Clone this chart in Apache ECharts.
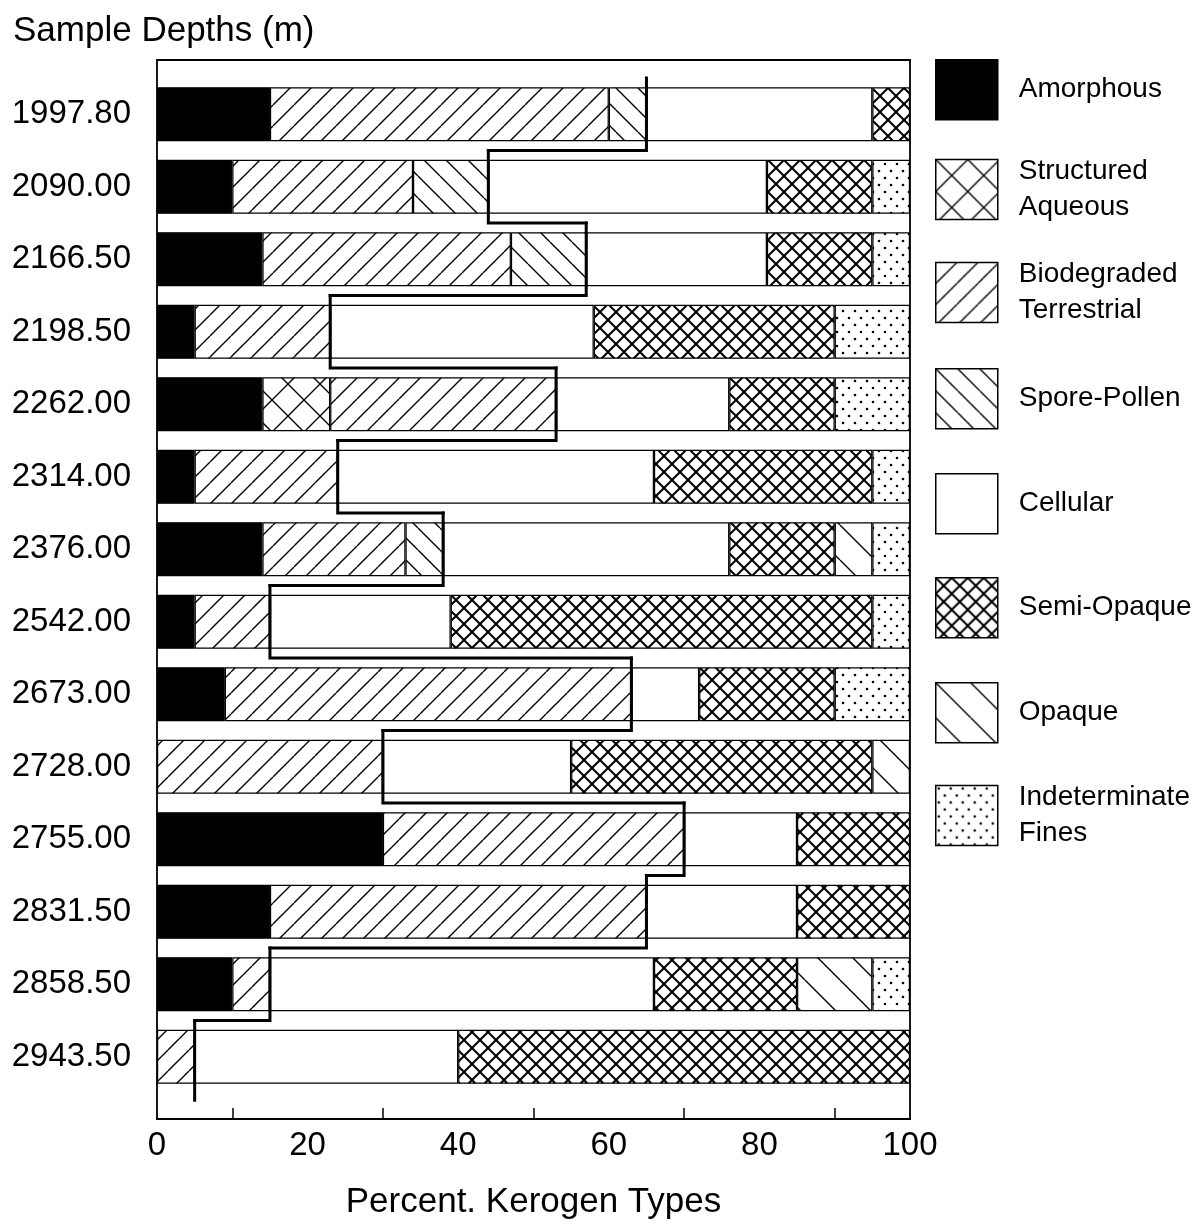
<!DOCTYPE html>
<html>
<head>
<meta charset="utf-8">
<script src="https://cdn.jsdelivr.net/npm/echarts@6/dist/echarts.min.js"></script>
<style>html,body{margin:0;padding:0;background:#fff}#chart{width:1200px;height:1225px}</style>
</head>
<body>
<div id="chart"></div>
<script>
// ---- data (top to bottom) ----
const depths = ['1997.80','2090.00','2166.50','2198.50','2262.00','2314.00','2376.00','2542.00','2673.00','2728.00','2755.00','2831.50','2858.50','2943.50'];
const amorphous   = [15,10,14, 5,14, 5,14, 5, 9, 0,30,15,10, 0];
const structured  = [ 0, 0, 0, 0, 9, 0, 0, 0, 0, 0, 0, 0, 0, 0];
const biodegraded = [45,24,33,18,30,19,19,10,54,30,40,50, 5, 5];
const sporePollen = [ 5,10,10, 0, 0, 0, 5, 0, 0, 0, 0, 0, 0, 0];
const cellular    = [30,37,24,35,23,42,38,24, 9,25,15,20,51,35];
const semiOpaque  = [ 5,14,14,32,14,29,14,56,18,40,15,15,19,60];
const opaque      = [ 0, 0, 0, 0, 0, 0, 5, 0, 0, 5, 0, 0,10, 0];
const indetFines  = [ 0, 5, 5,10,10, 5, 5, 5,10, 0, 0, 0, 5, 0];
const xLabels = [0,20,40,60,80,100];

// boundary line: cumulative of the first four types
const boundary = depths.map((d,i)=>amorphous[i]+structured[i]+biodegraded[i]+sporePollen[i]);

// ---- patterns ----
function pat(w, h, draw){
  const c = document.createElement('canvas'); c.width = w; c.height = h;
  const ctx = c.getContext('2d');
  ctx.fillStyle = '#fff'; ctx.fillRect(0,0,w,h);
  ctx.strokeStyle = '#000'; ctx.fillStyle = '#000';
  draw(ctx, w, h);
  return {image: c, repeat: 'repeat'};
}
function fwd(ctx, s){ ctx.beginPath(); for (const o of [-s,0,s]) { ctx.moveTo(o, s); ctx.lineTo(o+s, 0); } ctx.stroke(); }
function back(ctx, s){ ctx.beginPath(); for (const o of [-s,0,s]) { ctx.moveTo(o, 0); ctx.lineTo(o+s, s); } ctx.stroke(); }
const P = {
  amorphous: '#000',
  structured: pat(32,32,(ctx,s)=>{ctx.lineWidth=1.4; fwd(ctx,s); back(ctx,s);}),
  biodeg: pat(21,21,(ctx,s)=>{ctx.lineWidth=1.4; fwd(ctx,s);}),
  spore: pat(22,22,(ctx,s)=>{ctx.lineWidth=1.4; back(ctx,s);}),
  cellular: '#fff',
  semi: pat(16,16,(ctx,s)=>{ctx.lineWidth=2; fwd(ctx,s); back(ctx,s);}),
  opaque: pat(35,35,(ctx,s)=>{ctx.lineWidth=1.4; back(ctx,s);}),
  indet: pat(12,14,(ctx,w,h)=>{ for (const [x,y] of [[3,3],[9,10]]) { ctx.beginPath(); ctx.arc(x,y,1.3,0,Math.PI*2); ctx.fill(); } })
};

const seriesDefs = [
  ['Amorphous', amorphous, P.amorphous],
  ['Structured\nAqueous', structured, P.structured],
  ['Biodegraded\nTerrestrial', biodegraded, P.biodeg],
  ['Spore-Pollen', sporePollen, P.spore],
  ['Cellular', cellular, P.cellular],
  ['Semi-Opaque', semiOpaque, P.semi],
  ['Opaque', opaque, P.opaque],
  ['Indeterminate\nFines', indetFines, P.indet]
];
const legendTops = [54, 148.5, 251.5, 363, 468, 572, 677, 774.5];

const FONT = 'Liberation Sans, Arial, Helvetica, sans-serif';

const series = seriesDefs.map(([name, arr, color]) => ({
  name, type: 'bar', stack: 'total', xAxisIndex: 1, yAxisIndex: 1,
  barWidth: 54,
  itemStyle: {color, borderColor: '#000', borderWidth: 1.2},
  emphasis: {disabled: true},
  data: arr.map(v => v === 0 ? null : v)
}));

series.push({
  name: 'boundary', type: 'custom', xAxisIndex: 1, yAxisIndex: 1, z: 10, clip: false,
  data: boundary.map((v,i)=>[v,i]),
  renderItem: function(params, api){
    const i = params.dataIndex;
    const c = api.coord([api.value(0), i]);
    const h = api.size([0,1])[1];
    const top = c[1]-h/2, bot = c[1]+h/2;
    const pts = [[c[0], top],[c[0], bot]];
    if (i < boundary.length-1) {
      const n = api.coord([boundary[i+1], i+1]);
      pts.push([n[0], bot]);
    } else {
      pts[1][1] = bot + h*0.1;
    }
    return {type:'polyline', shape:{points: pts}, style:{stroke:'#000', lineWidth: 3, fill: null, lineCap:'square', lineJoin:'miter'}};
  }
});

const legends = seriesDefs.map(([name], k) => ({
  data: [name], orient: 'vertical', left: 930, top: legendTops[k],
  itemWidth: 62, itemHeight: 60, icon: 'rect', selectedMode: false,
  itemStyle: {borderColor: '#000', borderWidth: 1.5},
  textStyle: {fontFamily: FONT, fontSize: 28, color: '#000', lineHeight: 36, padding: [0,0,0,16]}
}));

const chart = echarts.init(document.getElementById('chart'), null, {renderer: 'canvas'});
chart.setOption({
  animation: false,
  backgroundColor: '#fff',
  title: {text: 'Sample Depths (m)', left: 8, top: 9,
    textStyle: {fontFamily: FONT, fontSize: 35, fontWeight: 'normal', color: '#000'}},
  legend: legends,
  grid: [
    {left: 157, top: 60, width: 753, height: 1059, show: true, borderColor: '#000', borderWidth: 1.8, backgroundColor: 'transparent'},
    {left: 157, top: 78, width: 753, height: 1015}
  ],
  xAxis: [
    {gridIndex: 0, type: 'value', min: 0, max: 100, interval: 20,
     axisLine: {show: true, lineStyle: {color: '#000', width: 1.8}},
     axisTick: {show: false, inside: true},
     minorTick: {show: true, splitNumber: 2, length: 11, lineStyle: {color: '#000', width: 1.5}},
     splitLine: {show: false}, minorSplitLine: {show: false},
     axisLabel: {fontFamily: FONT, fontSize: 33, color: '#000', margin: 10,
       formatter: v => xLabels.includes(v) ? String(v) : ''},
     name: 'Percent. Kerogen Types', nameLocation: 'middle', nameGap: 66,
     nameTextStyle: {fontFamily: FONT, fontSize: 35, color: '#000'}},
    {gridIndex: 1, type: 'value', min: 0, max: 100, show: false}
  ],
  yAxis: [
    {gridIndex: 0, type: 'value', show: false},
    {gridIndex: 1, type: 'category', inverse: true, data: depths,
     axisLine: {show: false}, axisTick: {show: false}, splitLine: {show: false},
     axisLabel: {fontFamily: FONT, fontSize: 33, color: '#000', margin: 26}}
  ],
  series
});
</script>
</body>
</html>
